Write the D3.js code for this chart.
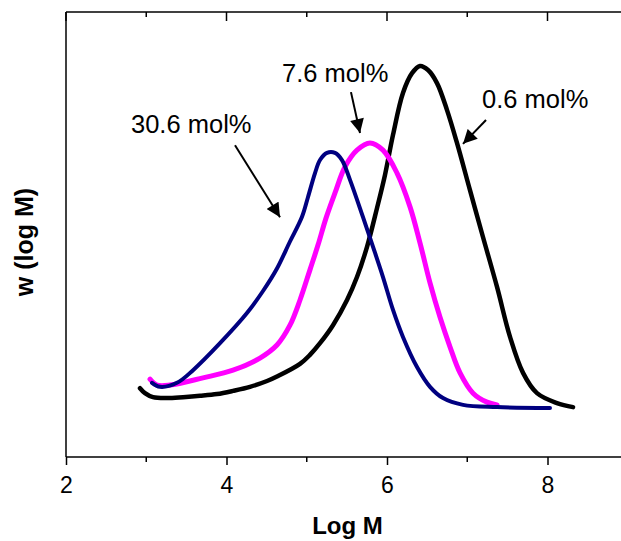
<!DOCTYPE html>
<html>
<head>
<meta charset="utf-8">
<script src="https://cdn.jsdelivr.net/npm/d3@7/dist/d3.min.js"></script>
<style>
  html, body { margin: 0; padding: 0; background: #fff; }
  svg { display: block; }
  text { font-family: Arial, "Liberation Sans", sans-serif; }
</style>
</head>
<body>
<svg id="chart" width="621" height="541"></svg>
<script>
// Molecular weight distributions, w(log M) vs Log M, for three comonomer contents
const series06 = [
  [2.922,0.164],[2.984,0.153],[3.084,0.144],[3.259,0.142],[3.458,0.144],[3.670,0.147],
  [3.882,0.151],[4.081,0.158],[4.293,0.167],[4.505,0.180],[4.642,0.191],[4.916,0.218],
  [5.040,0.238],[5.165,0.264],[5.327,0.304],[5.502,0.360],[5.626,0.411],[5.751,0.478],
  [5.875,0.564],[5.975,0.638],[6.075,0.727],[6.199,0.820],[6.312,0.864],[6.411,0.880],
  [6.511,0.871],[6.623,0.842],[6.748,0.782],[6.872,0.709],[7.034,0.604],[7.196,0.500],
  [7.371,0.389],[7.533,0.278],[7.695,0.198],[7.869,0.153],[8.118,0.131],[8.318,0.122]
];
const series76 = [
  [3.047,0.184],[3.134,0.171],[3.296,0.171],[3.707,0.187],[4.081,0.204],[4.417,0.231],
  [4.629,0.260],[4.791,0.304],[4.916,0.360],[5.040,0.427],[5.140,0.482],[5.240,0.542],
  [5.352,0.598],[5.477,0.656],[5.626,0.693],[5.788,0.709],[5.950,0.693],[6.125,0.642],
  [6.287,0.567],[6.411,0.487],[6.536,0.398],[6.660,0.322],[6.785,0.256],[6.910,0.198],
  [7.072,0.153],[7.246,0.133],[7.371,0.127]
];
const series306 = [
  [3.072,0.176],[3.171,0.167],[3.383,0.176],[3.583,0.204],[3.919,0.264],[4.255,0.331],
  [4.455,0.380],[4.629,0.430],[4.791,0.490],[4.941,0.545],[5.016,0.589],[5.103,0.642],
  [5.165,0.671],[5.252,0.687],[5.352,0.687],[5.439,0.671],[5.539,0.627],[5.701,0.544],
  [5.826,0.478],[5.950,0.411],[6.075,0.338],[6.199,0.278],[6.374,0.211],[6.536,0.167],
  [6.698,0.142],[6.947,0.127],[7.371,0.122],[8.031,0.120]
];

const seriesNames = ["0.6 mol%", "7.6 mol%", "30.6 mol%"];
const seriesColors = ["#000000", "#ff00ff", "#000080"];
const seriesWidths = [4.5, 5, 4];
const seriesData = [series06, series76, series306];

// Label anchor (text start) and arrow tail/tip, in data units
const labelPos = [[7.184, 0.787], [4.692, 0.844], [2.810, 0.731]];
const arrowFrom = [[7.234, 0.760], [5.551, 0.822], [4.106, 0.704]];
const arrowTo = [[6.947, 0.707], [5.664, 0.731], [4.667, 0.544]];

const xMajorTicks = [2, 4, 6, 8];
const xMinorTicks = [3, 5, 7];

const svg = d3.select("#chart");
const plotLeft = 66, plotTop = 12, axisY = 457;
const x = d3.scaleLinear().domain([2, 9]).range([plotLeft, plotLeft + 7 * 80.25]);
const y = d3.scaleLinear().domain([0, 1]).range([462, 12]);

// Frame: left and top lines, bottom axis
svg.append("line").attr("x1", plotLeft).attr("x2", plotLeft).attr("y1", plotTop).attr("y2", axisY)
  .attr("stroke", "#000").attr("stroke-width", 1.5);
svg.append("line").attr("x1", plotLeft).attr("x2", 640).attr("y1", plotTop).attr("y2", plotTop)
  .attr("stroke", "#000").attr("stroke-width", 1.5);

const xAxis = d3.axisBottom(x).tickValues(xMajorTicks).tickSize(8)
  .tickFormat(d3.format("d"));
const gx = svg.append("g").attr("transform", `translate(0,${axisY})`).call(xAxis);
gx.select(".domain").remove();
gx.append("line").attr("x1", plotLeft).attr("x2", 640).attr("stroke", "#000").attr("stroke-width", 1.5);
gx.selectAll(".tick line").attr("stroke-width", 1.5);
gx.selectAll(".tick text").attr("font-size", 23).attr("fill", "#000")
  .attr("dy", null).attr("y", 36)
  .style("font-family", "Arial, 'Liberation Sans', sans-serif");
gx.selectAll(".minor").data(xMinorTicks).enter().append("line")
  .attr("x1", d => x(d)).attr("x2", d => x(d)).attr("y1", 0).attr("y2", 5)
  .attr("stroke", "#000").attr("stroke-width", 1.5);

// Top mirror ticks pointing inward
const topTicks = svg.append("g");
topTicks.selectAll("line.maj").data(xMajorTicks).enter().append("line")
  .attr("x1", d => x(d)).attr("x2", d => x(d)).attr("y1", plotTop).attr("y2", plotTop + 9)
  .attr("stroke", "#000").attr("stroke-width", 1.5);
topTicks.selectAll("line.min").data(xMinorTicks).enter().append("line")
  .attr("x1", d => x(d)).attr("x2", d => x(d)).attr("y1", plotTop).attr("y2", plotTop + 5)
  .attr("stroke", "#000").attr("stroke-width", 1.5);

// Axis titles
svg.append("text").attr("x", 347.5).attr("y", 534).attr("text-anchor", "middle")
  .attr("font-size", 24).attr("font-weight", "bold").text("Log M");
svg.append("text").attr("transform", "translate(33,242) rotate(-90)")
  .attr("text-anchor", "middle").attr("font-size", 25).attr("font-weight", "bold")
  .text("w (log M)");

// Curves
const line = d3.line().x(d => x(d[0])).y(d => y(d[1])).curve(d3.curveCatmullRom.alpha(0.5));
seriesData.forEach((s, i) => {
  svg.append("path").datum(s).attr("d", line).attr("fill", "none")
    .attr("stroke", seriesColors[i]).attr("stroke-width", seriesWidths[i])
    .attr("stroke-linejoin", "round").attr("stroke-linecap", "round");
});

// Arrowhead marker
svg.append("defs").append("marker").attr("id", "head")
  .attr("viewBox", "0 0 10 10").attr("refX", 10).attr("refY", 5)
  .attr("markerWidth", 7.5).attr("markerHeight", 7).attr("markerUnits", "strokeWidth")
  .attr("orient", "auto")
  .append("path").attr("d", "M0,0 L10,5 L0,10 Z").attr("fill", "#000");

// Annotations
seriesNames.forEach((name, i) => {
  svg.append("text").attr("x", x(labelPos[i][0])).attr("y", y(labelPos[i][1]))
    .attr("font-size", 25.5).attr("fill", "#000").text(name);
  svg.append("line")
    .attr("x1", x(arrowFrom[i][0])).attr("y1", y(arrowFrom[i][1]))
    .attr("x2", x(arrowTo[i][0])).attr("y2", y(arrowTo[i][1]))
    .attr("stroke", "#000").attr("stroke-width", 2).attr("marker-end", "url(#head)");
});
</script>
</body>
</html>
